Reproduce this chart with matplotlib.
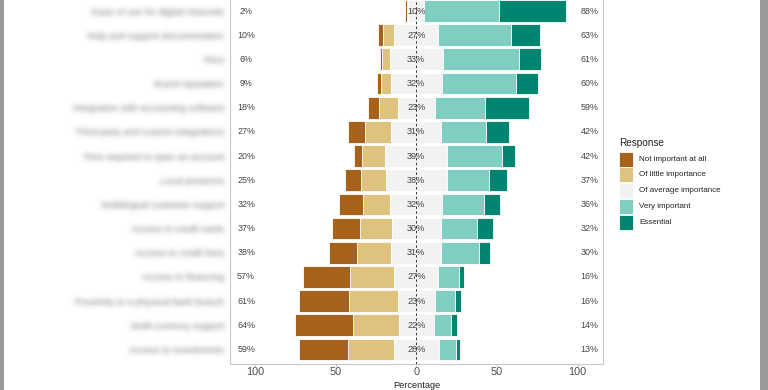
import numpy as np
import matplotlib
matplotlib.use("Agg")
import matplotlib.pyplot as plt
from matplotlib.patches import Rectangle

plt.rcParams['font.family'] = ['Liberation Sans', 'DejaVu Sans']

# ---------------- data ----------------
items = [
    "Ease of use for digital channels",
    "Help and support documentation",
    "Price",
    "Brand reputation",
    "Integration with accounting software",
    "Third-party and custom integrations",
    "Time required to open an account",
    "Local presence",
    "Multilingual customer support",
    "Access to credit cards",
    "Access to credit lines",
    "Access to financing",
    "Proximity to a physical bank branch",
    "Multi-currency support",
    "Access to investments",
]
not_important = [1.0, 3.0, 1.5, 2.6, 7.0, 10.7, 5.1, 9.7, 15.0, 17.5, 17.3, 29.6, 30.6, 36.0, 30.5]
little        = [1.0, 7.0, 4.5, 6.0, 11.3, 16.0, 14.5, 15.3, 17.0, 19.8, 21.1, 27.4, 30.4, 28.0, 28.5]
average       = [10.0, 27.0, 33.0, 31.6, 23.0, 31.3, 38.6, 38.0, 32.0, 30.4, 31.3, 27.0, 23.0, 22.0, 28.0]
very          = [46.0, 45.0, 47.0, 46.0, 31.0, 27.8, 33.8, 26.0, 25.7, 22.6, 23.0, 13.0, 12.8, 10.6, 10.5]
essential     = [42.0, 18.0, 14.0, 13.8, 27.7, 14.2, 8.0, 11.0, 10.3, 9.7, 7.3, 3.0, 3.2, 3.4, 2.5]
levels = ["Not important at all", "Of little importance", "Of average importance",
          "Very important", "Essential"]
colors = ["#A6611A", "#DFC27D", "#F2F2F2", "#80CDC1", "#018571"]
xticks = [-100, -50, 0, 50, 100]
xticklabels = ["100", "50", "0", "50", "100"]

ni = np.array(not_important); li = np.array(little); av = np.array(average)
ve = np.array(very); es = np.array(essential)
low = ni + li
high = ve + es

# --------------- figure ---------------
W, H = 768, 390
fig = plt.figure(figsize=(W / 100, H / 100), dpi=100)
fig.patch.set_facecolor("white")

def fx(px):
    return px / W

def fy(py):
    return 1 - py / H

ax = fig.add_axes([fx(230), fy(364.0), fx(603) - fx(230), fy(-3.5) - fy(364.0)])
y = np.arange(len(items))
h = 0.9
ec = dict(edgecolor="white", linewidth=0.6)
ax.barh(y, li, left=-av / 2 - li, height=h, color=colors[1], **ec)
ax.barh(y, ni, left=-av / 2 - li - ni, height=h, color=colors[0], **ec)
ax.barh(y, av, left=-av / 2, height=h, color=colors[2], **ec)
ax.barh(y, ve, left=av / 2, height=h, color=colors[3], **ec)
ax.barh(y, es, left=av / 2 + ve, height=h, color=colors[4], **ec)

ax.axvline(0, color="#333333", lw=0.7, ls=(0, (2.5, 2.5)), zorder=5)

for i in range(len(items)):
    ax.text(-105.5, y[i], f"{round(low[i])}%", ha="center", va="center",
            fontsize=6.4, color="#444444")
    ax.text(0, y[i], f"{round(av[i])}%", ha="center", va="center",
            fontsize=6.6, color="#444444", zorder=6)
    ax.text(107.5, y[i], f"{round(high[i])}%", ha="center", va="center",
            fontsize=6.4, color="#444444")

ax.set_xlim(-115.5, 115.8)
ax.set_ylim(len(items) - 0.4, -0.6)
ax.set_xticks(xticks)
ax.set_xticklabels(xticklabels, fontsize=7.8, color="#4d4d4d")
ax.tick_params(axis="x", length=1.5, color="#bbbbbb", pad=0.8)
ax.set_yticks(y)
ax.set_yticklabels(items, fontsize=6.8, color="#888888")
ax.tick_params(axis="y", length=0, pad=4)
for s in ax.spines.values():
    s.set_color("#c8c8c8")
    s.set_linewidth(0.8)

# x-axis title (kept just inside the bottom edge)
fig.text(fx(416.5), fy(389.8), "Percentage", fontsize=6.7, color="#222222",
         ha="center", va="bottom")


def blur_filter(im, dpi):
    pad = 8
    sigma = 2.6
    a = np.pad(im, [(pad, pad), (pad, pad), (0, 0)], "constant")
    alpha = a[:, :, 3]
    r = int(3 * sigma)
    xs = np.arange(-r, r + 1)
    k = np.exp(-xs ** 2 / (2 * sigma ** 2))
    k /= k.sum()
    out = np.zeros_like(alpha)
    for i, w in enumerate(k):
        out += w * np.roll(alpha, i - r, axis=0)
    out2 = np.zeros_like(out)
    for i, w in enumerate(k):
        out2 += w * np.roll(out, i - r, axis=1)
    res = np.zeros_like(a)
    res[:, :, 0] = 0.55
    res[:, :, 1] = 0.55
    res[:, :, 2] = 0.55
    res[:, :, 3] = np.clip(out2 * 1.2, 0, 1)
    return res, -pad, -pad


for t in ax.get_yticklabels():
    t.set_agg_filter(blur_filter)

# legend (manual)
fig.text(fx(619.5), fy(142.7), "Response", fontsize=7.2, color="#222222",
         ha="left", va="center")
for j, (lab, c) in enumerate(zip(levels, colors)):
    top = 151.7 + j * 15.7
    fig.patches.append(Rectangle((fx(619.3), fy(top + 15)), fx(14.2), 15 / H,
                                 transform=fig.transFigure, facecolor=c,
                                 edgecolor="white", linewidth=0.6))
    fig.text(fx(639.3), fy(top + 7.5), lab, fontsize=5.8, color="#222222",
             ha="left", va="center")

# screenshot frame strips
fig.patches.append(Rectangle((0, 0), fx(4), 1, transform=fig.transFigure,
                             facecolor="#9a9a9a", edgecolor="none"))
fig.patches.append(Rectangle((fx(760), 0), fx(8), 1, transform=fig.transFigure,
                             facecolor="#9a9a9a", edgecolor="none"))

fig.savefig("out.png", dpi=100)
